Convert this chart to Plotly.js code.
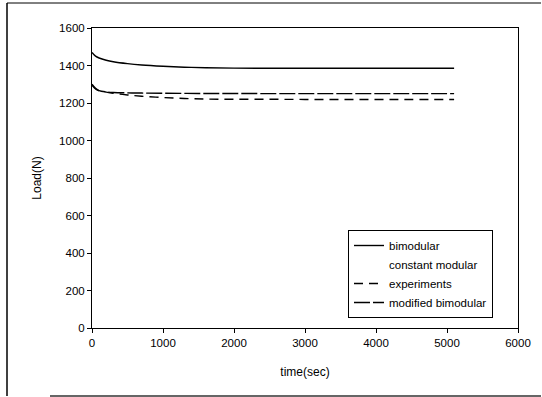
<!DOCTYPE html>
<html><head><meta charset="utf-8">
<script src="https://cdn.plot.ly/plotly-3.0.1.min.js"></script>
<style>html,body{margin:0;padding:0;background:#fff}</style>
</head><body><div id="chart" style="width:542px;height:397px"></div>
<script>
// time (sec) and load (N) values
const tBimodular = [0, 50, 100, 200, 300, 500, 700, 1000, 1300, 1600, 2000, 2500, 3000, 3500, 4000, 4500, 5100];
const bimodular  = [1470, 1450, 1440, 1428, 1420, 1410, 1403, 1396, 1391, 1388, 1386, 1385, 1385, 1385, 1385, 1385, 1385];

// "constant modular" is listed in the legend but no curve is visible in the picture
const tConstant = [null];
const constantModular = [null];

const tExperiments = [0, 50, 100, 200, 300, 500, 700, 1000, 1300, 1600, 2000, 2500, 3000, 3500, 4000, 4500, 5100];
const experiments  = [1295, 1275, 1265, 1258, 1252, 1243, 1236, 1229, 1224, 1221, 1220, 1220, 1219, 1219, 1219, 1219, 1219];

const tModified = [0, 50, 100, 200, 300, 500, 700, 1000, 1500, 2000, 2500, 3000, 3500, 4000, 4500, 5100];
const modifiedBimodular = [1300, 1278, 1266, 1259, 1256, 1254, 1253, 1252, 1251, 1251, 1250, 1250, 1250, 1250, 1250, 1250];

const xTicks = [0, 1000, 2000, 3000, 4000, 5000, 6000];
const yTicks = [0, 200, 400, 600, 800, 1000, 1200, 1400, 1600];

const font = {family: 'Liberation Sans, Arial, sans-serif', color: '#000'};

const traces = [
  {x: tBimodular, y: bimodular, name: 'bimodular', mode: 'lines', line: {color: '#000', width: 1.4, shape: 'spline'}},
  {x: tConstant, y: constantModular, name: 'constant modular', mode: 'lines', line: {color: 'rgba(0,0,0,0)', width: 1}},
  {x: tExperiments, y: experiments, name: 'experiments', mode: 'lines', line: {color: '#000', width: 1.4, dash: '9px,6px', shape: 'spline'}},
  {x: tModified, y: modifiedBimodular, name: 'modified bimodular', mode: 'lines', line: {color: '#000', width: 1.4, dash: '16px,3px', shape: 'spline'}}
];

const layout = {
  width: 542, height: 397,
  margin: {l: 92, r: 24, t: 28, b: 69},
  paper_bgcolor: '#fff', plot_bgcolor: '#fff',
  font: Object.assign({size: 11}, font),
  showlegend: true,
  legend: {
    x: (348 - 92) / 426, y: (328 - 318) / 300, xanchor: 'left', yanchor: 'bottom',
    bordercolor: '#000', borderwidth: 1, bgcolor: '#fff',
    font: Object.assign({size: 11.5}, font),
    tracegroupgap: 0, itemwidth: 30
  },
  xaxis: {
    range: [0, 6000], tickvals: xTicks, ticktext: xTicks.map(String),
    showgrid: false, zeroline: false, showline: true, linecolor: '#000', linewidth: 1,
    mirror: true, ticks: 'outside', ticklen: 4, tickcolor: '#000',
    tickfont: Object.assign({size: 11.5}, font),
    title: {text: 'time(sec)', font: Object.assign({size: 12}, font), standoff: 19}
  },
  yaxis: {
    range: [0, 1600], tickvals: yTicks, ticktext: yTicks.map(String),
    showgrid: false, zeroline: false, showline: true, linecolor: '#000', linewidth: 1,
    mirror: true, ticks: 'outside', ticklen: 4, tickcolor: '#000',
    tickfont: Object.assign({size: 11.5}, font),
    title: {text: 'Load(N)', font: Object.assign({size: 12}, font), standoff: 14}
  },
  shapes: [
    {type: 'line', xref: 'paper', yref: 'paper', x0: (7 - 92) / 426, x1: (7 - 92) / 426, y0: (328 - 3) / 300, y1: (328 - 396) / 300, line: {color: '#000', width: 1.5}},
    {type: 'line', xref: 'paper', yref: 'paper', x0: (7 - 92) / 426, x1: (541 - 92) / 426, y0: (328 - 3) / 300, y1: (328 - 3) / 300, line: {color: '#000', width: 1}},
    {type: 'line', xref: 'paper', yref: 'paper', x0: (50 - 92) / 426, x1: (541 - 92) / 426, y0: (328 - 396) / 300, y1: (328 - 396) / 300, line: {color: '#333', width: 1.5}}
  ]
};

Plotly.newPlot('chart', traces, layout, {staticPlot: true, displayModeBar: false});
</script>
</body></html>
